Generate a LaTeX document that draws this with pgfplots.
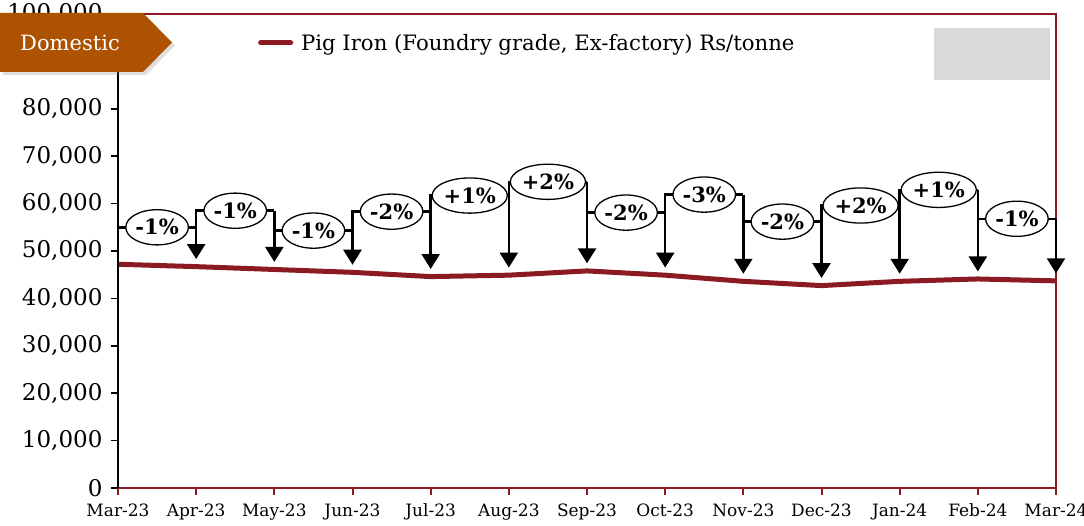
\documentclass[border=0pt]{standalone}
\usepackage{pgfplots}
\pgfplotsset{compat=1.18}
\usepackage{fontspec}
\setmainfont{DejaVu Serif}
\usetikzlibrary{arrows.meta,shapes.geometric,shadows}
\definecolor{pigred}{HTML}{8B1A22}
\definecolor{tagorange}{HTML}{AD5200}
\definecolor{boxgrey}{HTML}{D9D9D9}

% #1 x from, #2 x to, #3 previous level, #4 level, #5 arrow tip, #6 label
\newcommand{\bracket}[6]{%
  \draw[brk] (axis cs:#1,#3) -- (axis cs:#1,#4) -- node[ell]{#6} (axis cs:#2,#4);
  \draw[arr] (axis cs:#2,#4) -- (axis cs:#2,#5);}

\begin{document}
\begin{tikzpicture}[x=1pt,y=1pt,
  brk/.style={black, line width=2.5pt},
  arr/.style={black, line width=2.5pt, -{Triangle[width=18pt,length=15pt]}},
  ell/.style={ellipse, draw=black, line width=1.3pt, fill=white,
    inner xsep=0.5pt, inner ysep=4.5pt, font=\fontsize{21}{21}\selectfont\bfseries}]
\useasboundingbox (0,0) rectangle (1084,525);
\begin{axis}[
    at={(118pt,37pt)}, anchor=south west,
    scale only axis, width=938pt, height=474pt,
    xmin=0, xmax=12, ymin=0, ymax=100000,
    clip=false,
    xtick={0,...,12},
    xticklabels={Mar-23,Apr-23,May-23,Jun-23,Jul-23,Aug-23,Sep-23,Oct-23,Nov-23,Dec-23,Jan-24,Feb-24,Mar-24},
    ytick={0,10000,...,100000},
    scaled y ticks=false,
    yticklabel style={font=\fontsize{23}{23}\selectfont, xshift=-5pt,
      /pgf/number format/.cd, fixed, 1000 sep={,}, assume math mode=true},
    xticklabel style={font=\fontsize{17}{17}\selectfont, yshift=-5pt},
    axis line style={pigred, line width=2.5pt},
    tick pos=left, tick align=outside, major tick length=7pt,
    xtick style={pigred, line width=2pt},
    ytick style={black, line width=1.5pt},
    legend style={draw=none, fill=none, at={(axis description cs:0.146,0.939)},
      anchor=west, font=\fontsize{21.2}{21.2}\selectfont},
    legend image code/.code={\draw[pigred, line width=5pt, line cap=round] (0pt,0pt) -- (30pt,0pt);
      \path (36pt,0pt);},
]
\addplot[pigred, line width=5pt] coordinates {
    (0,47200) (1,46700) (2,46100) (3,45500) (4,44600) (5,44900) (6,45800)
    (7,44900) (8,43600) (9,42700) (10,43600) (11,44100) (12,43700)
};
\addlegendentry{Pig Iron (Foundry grade, Ex-factory) Rs/tonne}
\draw[black, line width=2pt] (rel axis cs:0,0) -- (rel axis cs:0,1);
\bracket{0}{1}{55000}{55000}{48300}{-1\%}
\bracket{1}{2}{55000}{58500}{47700}{-1\%}
\bracket{2}{3}{58500}{54300}{47100}{-1\%}
\bracket{3}{4}{54300}{58300}{46200}{-2\%}
\bracket{4}{5}{58300}{61700}{46500}{+1\%}
\bracket{5}{6}{61700}{64600}{47400}{+2\%}
\bracket{6}{7}{64600}{58100}{46500}{-2\%}
\bracket{7}{8}{58100}{61900}{45200}{-3\%}
\bracket{8}{9}{61900}{56200}{44300}{-2\%}
\bracket{9}{10}{56200}{59600}{45200}{+2\%}
\bracket{10}{11}{59600}{62900}{45700}{+1\%}
\bracket{11}{12}{62900}{56800}{45300}{-1\%}
\end{axis}
\fill[boxgrey] (934,445) rectangle (1050,497);
\fill[tagorange, drop shadow={shadow xshift=3pt, shadow yshift=-3pt, opacity=0.25}]
  (0,512) -- (143,512) -- (172,482.5) -- (143,453) -- (0,453) -- cycle;
\node[white, font=\fontsize{21}{21}\selectfont] at (70,482.5) {Domestic};
\end{tikzpicture}
\end{document}
